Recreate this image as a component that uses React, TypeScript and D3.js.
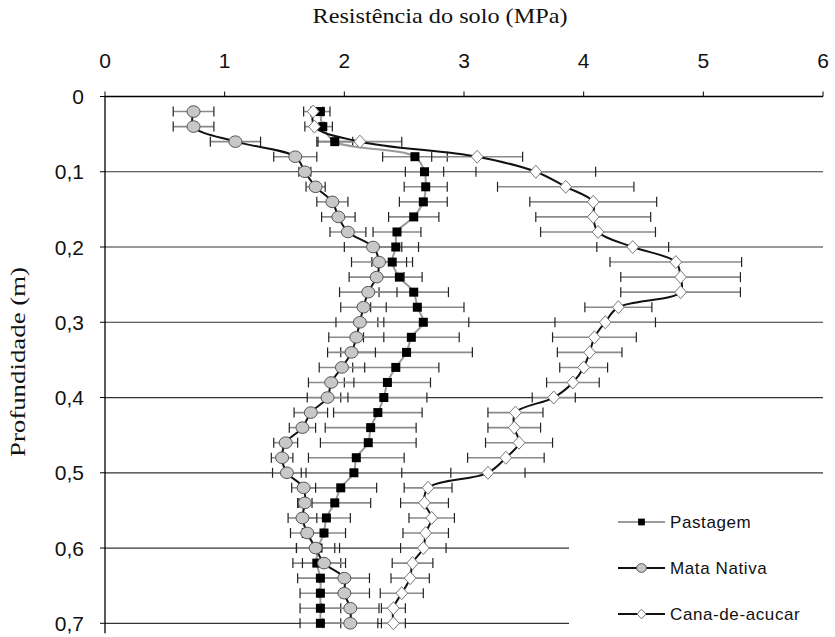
import React from 'react'
import * as d3 from 'd3'

// profundidade (m), passo de 0,02
const depths = [0.02, 0.04, 0.06, 0.08, 0.1, 0.12, 0.14, 0.16, 0.18, 0.2, 0.22, 0.24, 0.26, 0.28, 0.3, 0.32, 0.34, 0.36, 0.38, 0.4, 0.42, 0.44, 0.46, 0.48, 0.5, 0.52, 0.54, 0.56, 0.58, 0.6, 0.62, 0.64, 0.66, 0.68, 0.7]

const pastagem = [1.8, 1.82, 1.92, 2.59, 2.67, 2.68, 2.66, 2.58, 2.44, 2.43, 2.4, 2.46, 2.58, 2.61, 2.66, 2.56, 2.52, 2.43, 2.36, 2.33, 2.28, 2.22, 2.2, 2.1, 2.08, 1.97, 1.92, 1.85, 1.83, 1.78, 1.77, 1.8, 1.8, 1.8, 1.8]
const pastagemErr = [0.08, 0.08, 0.15, 0.27, 0.16, 0.18, 0.2, 0.21, 0.2, 0.19, 0.17, 0.19, 0.29, 0.39, 0.38, 0.4, 0.55, 0.36, 0.36, 0.36, 0.37, 0.38, 0.4, 0.4, 0.4, 0.3, 0.3, 0.2, 0.18, 0.18, 0.2, 0.19, 0.17, 0.17, 0.17]

const mataNativa = [0.74, 0.74, 1.09, 1.59, 1.67, 1.76, 1.9, 1.95, 2.03, 2.24, 2.29, 2.27, 2.2, 2.16, 2.13, 2.1, 2.06, 1.98, 1.89, 1.86, 1.72, 1.65, 1.51, 1.48, 1.52, 1.66, 1.67, 1.65, 1.69, 1.76, 1.83, 2.0, 2.0, 2.05, 2.05]
const mataNativaErr = [0.17, 0.17, 0.21, 0.18, 0.05, 0.08, 0.13, 0.14, 0.15, 0.24, 0.23, 0.23, 0.24, 0.19, 0.2, 0.23, 0.2, 0.19, 0.19, 0.17, 0.14, 0.11, 0.1, 0.09, 0.12, 0.1, 0.06, 0.12, 0.14, 0.16, 0.18, 0.21, 0.21, 0.24, 0.23]

const canaDeAcucar = [1.74, 1.75, 2.13, 3.11, 3.6, 3.85, 4.08, 4.08, 4.12, 4.41, 4.77, 4.81, 4.81, 4.29, 4.18, 4.09, 4.05, 4.0, 3.91, 3.75, 3.43, 3.42, 3.46, 3.35, 3.2, 2.7, 2.67, 2.73, 2.68, 2.66, 2.57, 2.55, 2.48, 2.41, 2.41]
const canaDeAcucarErr = [0.08, 0.08, 0.35, 0.38, 0.5, 0.57, 0.53, 0.48, 0.48, 0.3, 0.55, 0.5, 0.5, 0.28, 0.42, 0.35, 0.27, 0.2, 0.22, 0.18, 0.23, 0.22, 0.28, 0.32, 0.31, 0.2, 0.2, 0.19, 0.19, 0.19, 0.17, 0.16, 0.18, 0.1, 0.1]

const xTicks = [0, 1, 2, 3, 4, 5, 6]
const yTicks = [0, 0.1, 0.2, 0.3, 0.4, 0.5, 0.6, 0.7]
const seriesNames = ['Pastagem', 'Mata Nativa', 'Cana-de-acucar']

const W = 835
const H = 637

const App = () => {
  const x = d3.scaleLinear().domain([0, 6]).range([105, 823])
  const y = d3.scaleLinear().domain([0, 0.7]).range([96.5, 623.3])

  const line = (vals: number[]) =>
    d3.line<number>()
      .x((d) => x(d))
      .y((_, i) => y(depths[i]))
      .curve(d3.curveCatmullRom)(vals) || ''

  const series = [
    { name: seriesNames[0], vals: pastagem, err: pastagemErr, lineColor: '#9a9a9a', marker: 'square' },
    { name: seriesNames[1], vals: mataNativa, err: mataNativaErr, lineColor: '#111', marker: 'circle' },
    { name: seriesNames[2], vals: canaDeAcucar, err: canaDeAcucarErr, lineColor: '#111', marker: 'diamond' },
  ]

  const marker = (kind: string, cx: number, cy: number, key: string | number, size = 1) => {
    if (kind === 'square') {
      const s = 4.5 * size
      return <rect key={key} x={cx - s} y={cy - s} width={2 * s} height={2 * s} fill="#000" />
    }
    if (kind === 'circle') {
      return <ellipse key={key} cx={cx} cy={cy} rx={6.5 * size} ry={5.8 * size} fill="#c8c8c8" stroke="#555" strokeWidth={1} />
    }
    const r = 6.5 * size
    return (
      <path key={key} d={`M${cx},${cy - r}L${cx + r * 0.9},${cy}L${cx},${cy + r}L${cx - r * 0.9},${cy}Z`}
        fill="#fff" stroke="#777" strokeWidth={1} />
    )
  }

  return (
    <svg width={W} height={H} style={{ position: 'absolute', left: 0, top: 0, background: '#fff' }}>
      {/* titulos */}
      <text x={440} y={23} textAnchor="middle" fontFamily="Liberation Serif, serif" fontSize={22}
        textLength={255} lengthAdjust="spacingAndGlyphs" fill="#111">Resistência do solo (MPa)</text>
      <text transform="translate(25,362) rotate(-90)" textAnchor="middle" fontFamily="Liberation Serif, serif"
        fontSize={22} textLength={190} lengthAdjust="spacingAndGlyphs" fill="#111">Profundidade (m)</text>

      {/* grade */}
      {yTicks.slice(1).map((t) => (
        <line key={t} x1={x(0)} x2={x(6)} y1={y(t)} y2={y(t)} stroke="#333" strokeWidth={1.2} />
      ))}

      {/* eixos */}
      <line x1={x(0)} x2={x(6)} y1={y(0)} y2={y(0)} stroke="#000" strokeWidth={1.3} />
      <line x1={x(0)} x2={x(0)} y1={y(0)} y2={y(0.7) + 10} stroke="#000" strokeWidth={1.3} />
      {xTicks.map((t) => (
        <g key={t}>
          <line x1={x(t)} x2={x(t)} y1={y(0) - 5} y2={y(0)} stroke="#000" />
          <text x={x(t)} y={68} textAnchor="middle" fontFamily="Liberation Sans, Arial, sans-serif" fontSize={21} fill="#111">{t}</text>
        </g>
      ))}
      {yTicks.map((t) => (
        <g key={t}>
          <line x1={x(0) - 5} x2={x(0)} y1={y(t)} y2={y(t)} stroke="#000" />
          <text x={84} y={y(t) + 7.5} textAnchor="end" fontFamily="Liberation Sans, Arial, sans-serif" fontSize={21} fill="#111">
            {t === 0 ? '0' : d3.format('.1f')(t).replace('.', ',')}
          </text>
        </g>
      ))}

      {/* barras de erro */}
      {series.map((s) => (
        <g key={s.name + '-err'}>
          {s.vals.map((v, i) => {
            const cy = y(depths[i])
            const x1 = x(v - s.err[i])
            const x2 = x(v + s.err[i])
            return (
              <g key={i}>
                <line x1={x1} x2={x2} y1={cy} y2={cy} stroke="#8a8a8a" strokeWidth={1.6} />
                <line x1={x1} x2={x1} y1={cy - 5} y2={cy + 5} stroke="#222" strokeWidth={1.2} />
                <line x1={x2} x2={x2} y1={cy - 5} y2={cy + 5} stroke="#222" strokeWidth={1.2} />
              </g>
            )
          })}
        </g>
      ))}

      {/* series */}
      {series.map((s) => (
        <g key={s.name}>
          <path d={line(s.vals)} fill="none" stroke={s.lineColor} strokeWidth={2} />
          {s.vals.map((v, i) => marker(s.marker, x(v), y(depths[i]), i))}
        </g>
      ))}

      {/* legenda */}
      <rect x={569} y={490} width={W - 569} height={H - 490} fill="#fff" />
      {series.map((s, i) => {
        const ly = 522 + i * 46
        return (
          <g key={s.name + '-leg'}>
            <line x1={618} x2={665} y1={ly} y2={ly} stroke={s.lineColor} strokeWidth={2} />
            {marker(s.marker, 641.5, ly, 'm', 0.75)}
            <text x={670} y={ly + 6} fontFamily="Liberation Sans, Arial, sans-serif" fontSize={17}
              letterSpacing={0.6} fill="#111">{s.name}</text>
          </g>
        )
      })}
    </svg>
  )
}

export default App
